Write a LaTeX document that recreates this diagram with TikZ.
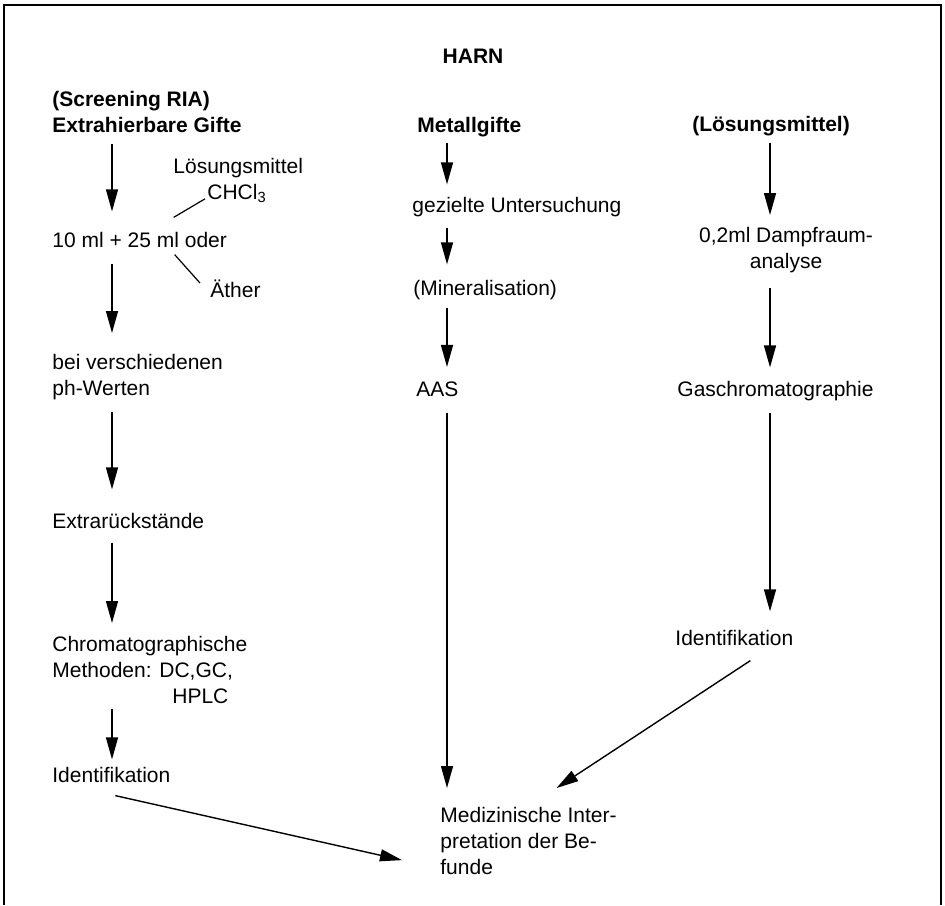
\documentclass[tikz,border=0pt]{standalone}
\usepackage{fontspec}
\setmainfont{Liberation Sans}
\usetikzlibrary{arrows.meta, positioning, calc}

\begin{document}
\begin{tikzpicture}[x=0.5pt, y=-0.5pt,
    txt/.style={font=\fontsize{10.5}{13}\selectfont, inner sep=0pt, align=left},
    fett/.style={txt, font=\fontsize{10.5}{13}\selectfont\bfseries},
    pfeil/.style={-{Triangle[length=11pt, width=6pt]}, line width=0.7pt},
    strich/.style={line width=0.6pt}]
                \useasboundingbox (0,0) rectangle (945,905);
                \draw[line width=1pt] (4,905) -- (4,5) -- (941,5) -- (941,905);
                \coordinate (colA) at (112,0);
                \coordinate (colB) at (447,0);
                \coordinate (colC) at (770,0);
                \node[fett, anchor=base] (harn) at (473,63) {HARN};
                \node[fett, anchor=north west] (screen) at (52,91) {(Screening RIA)\\Extrahierbare Gifte};
                \node[txt, anchor=base west] (misch) at (52,247) {10 ml + 25 ml oder};
                \node[txt, anchor=base west] (loesm) at (173,173) {Lösungsmittel};
                \node[txt, anchor=base west] (chcl) at (207,199) {CHCl\textsubscript{3}};
                \node[txt, anchor=base west] (aether) at (210,297) {Äther};
                \node[txt, anchor=north west] (phwert) at (52,354) {bei verschiedenen\\ph-Werten};
                \node[txt, anchor=base west] (rueck) at (52,528) {Extrarückstände};
                \node[txt, anchor=north west] (chrom) at (52,636) {Chromatographische\\Methoden: DC,GC,\\\hspace*{60pt}HPLC};
                \node[txt, anchor=base west] (identL) at (52,782) {Identifikation};
                \node[fett, anchor=base west] (metall) at (417,132) {Metallgifte};
                \node[txt, anchor=base west] (gezielt) at (412,212) {gezielte Untersuchung};
                \node[txt, anchor=base west] (mineral) at (413,295) {(Mineralisation)};
                \node[txt, anchor=base west] (aas) at (416,396) {AAS};
                \node[txt, anchor=north west] (mediz) at (440,807) {Medizinische Inter-\\pretation der Be-\\funde};
                \node[fett, anchor=base] (loesung) at (771,131) {(Lösungsmittel)};
                \node[txt, align=center, anchor=north] (dampf) at (786,227) {0,2ml Dampfraum-\\analyse};
                \node[txt, anchor=base west] (gas) at (677,396) {Gaschromatographie};
                \node[txt, anchor=base west] (identR) at (675,645) {Identifikation};
                \draw[strich] ([xshift=17pt, yshift=7pt]misch.north) -- ([xshift=-1pt, yshift=2pt]chcl.south west);
                \draw[strich] ([xshift=17.5pt, yshift=-3.5pt]misch.south) -- ([xshift=-5pt, yshift=-2pt]aether.north west);
                \draw[pfeil, shorten <=5.5pt, shorten >=10pt] (screen.south -| colA) -- (misch.north -| colA);
                \draw[pfeil, shorten <=8pt, shorten >=10.5pt] (misch.south -| colA) -- (phwert.north -| colA);
                \draw[pfeil, shorten <=6pt, shorten >=11.5pt] (phwert.south -| colA) -- (rueck.north -| colA);
                \draw[pfeil, shorten <=7pt, shorten >=6.5pt] (rueck.south -| colA) -- (chrom.north -| colA);
                \draw[pfeil, shorten <=2.5pt, shorten >=3.5pt] (chrom.south -| colA) -- (identL.north -| colA);
                \draw[pfeil] ([xshift=2pt, yshift=-6.5pt]identL.south) -- ([xshift=-19pt, yshift=-9.5pt]mediz.west);
                \draw[pfeil, shorten <=3pt, shorten >=6pt] (metall.south -| colB) -- (gezielt.north -| colB);
                \draw[pfeil, shorten <=5.5pt, shorten >=7.5pt] (gezielt.south -| colB) -- (mineral.north -| colB);
                \draw[pfeil, shorten <=4pt, shorten >=7pt] (mineral.south -| colB) -- (aas.north -| colB);
                \draw[pfeil, shorten <=8pt, shorten >=9.5pt] (aas.south -| colB) -- (mediz.north -| colB);
                \draw[pfeil, shorten <=3.5pt, shorten >=6pt] (loesung.south -| colC) -- (dampf.north -| colC);
                \draw[pfeil, shorten <=7.5pt, shorten >=6.5pt] (dampf.south -| colC) -- (gas.north -| colC);
                \draw[pfeil, shorten <=6pt, shorten >=9pt] (gas.south -| colC) -- (identR.north -| colC);
                \draw[pfeil] ([xshift=8pt, yshift=-7.5pt]identR.south) -- ([xshift=14pt, yshift=9.5pt]mediz.north);
            \end{tikzpicture}
\end{document}
